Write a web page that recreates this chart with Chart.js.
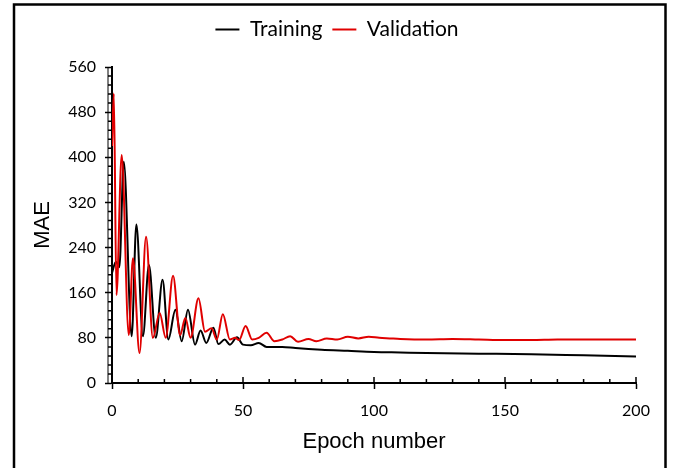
<!DOCTYPE html>
<html>
<head>
<meta charset="utf-8">
<script src="https://cdn.jsdelivr.net/npm/chart.js@4.4.1/dist/chart.umd.min.js"></script>
<style>
  html, body { margin: 0; padding: 0; background: #fff; }
</style>
</head>
<body>
<canvas id="maeChart" width="674" height="468"></canvas>
<script>
// MAE per epoch
const trainEpochs = [0, 1.5, 2.8, 4.5, 7.5, 9.3, 11.8, 14.1, 16.7, 19.3, 21.5, 24.2, 26.6, 29, 31.7, 33.8, 36, 38.7, 40.6, 43, 45, 47.7, 50, 53, 56, 59, 65, 70, 80, 90, 100, 110, 120, 140, 160, 180, 200];
const trainMAE = [195, 215, 205, 392, 83, 281, 83, 209, 80, 183, 77, 130, 74, 130, 68, 93, 71, 98, 69, 77, 68, 81, 68, 67, 71, 64, 64, 62, 59, 57, 55, 54, 53, 52, 51, 49, 47];

const valEpochs = [0, 0.7, 1.7, 3.7, 6.4, 8, 10.5, 13, 15.6, 18.2, 20.5, 23.3, 26, 28, 30, 33, 35.5, 38, 40, 42.3, 45, 47, 48.5, 51, 53.5, 56, 59, 62, 65, 68, 71, 75, 78, 82, 86, 90, 94, 98, 102, 106, 110, 120, 130, 140, 150, 160, 170, 180, 190, 200];
const valMAE = [420, 513, 156, 404, 85, 221, 53, 259, 80, 124, 80, 190, 85, 115, 80, 150, 91, 97, 77, 122, 77, 80, 76, 101, 77, 80, 89, 74, 77, 83, 73, 78, 74, 79, 77, 82, 79, 82, 80, 79, 78, 77, 78, 77, 76, 76, 77, 77, 77, 77];

const xTicks = [0, 50, 100, 150, 200];
const yTicks = [0, 80, 160, 240, 320, 400, 480, 560];
const xMinorStep = 10;
const yMinorStep = 16;

const toPoints = (xs, ys) => xs.map((x, i) => ({ x: x, y: ys[i] }));

// extra room under the legend
const legendGap = {
    id: 'legendGap',
    beforeLayout(chart) {
        const legend = chart.legend;
        if (legend && !legend._gapped) {
            const fit = legend.fit;
            legend.fit = function () { fit.call(this); this.height += 17; };
            legend._gapped = true;
        }
    }
};

// minor ticks, upper half of the x major ticks, and the outer frame
const axisDecor = {
    id: 'axisDecor',
    afterDraw(chart) {
        const ctx = chart.ctx;
        const x = chart.scales.x;
        const y = chart.scales.y;
        ctx.save();
        ctx.strokeStyle = '#000';
        ctx.lineWidth = 1.5;
        ctx.beginPath();
        for (let v = 0; v <= 200; v += xMinorStep) {
            const px = x.getPixelForValue(v);
            ctx.moveTo(px, y.bottom);
            ctx.lineTo(px, y.bottom - (v % 50 ? 4 : 6));
        }
        for (let v = yMinorStep; v < 560; v += yMinorStep) {
            if (v % 80 === 0) continue;
            const py = y.getPixelForValue(v);
            ctx.moveTo(x.left, py);
            ctx.lineTo(x.left - 4, py);
        }
        ctx.stroke();

        ctx.lineWidth = 1;
        ctx.beginPath();
        ctx.moveTo(x.left - 4, y.top);
        ctx.lineTo(x.left - 4, y.bottom);
        ctx.stroke();

        ctx.lineWidth = 2.5;
        ctx.strokeRect(14, 4.5, 651.5, 480);
        ctx.restore();
    }
};

new Chart(document.getElementById('maeChart').getContext('2d'), {
    type: 'line',
    data: {
        datasets: [{
            label: 'Training',
            data: toPoints(trainEpochs, trainMAE),
            borderColor: '#000000',
            backgroundColor: '#000000',
            borderWidth: 2,
            pointRadius: 0,
            cubicInterpolationMode: 'monotone',
            order: 1
        }, {
            label: 'Validation',
            data: toPoints(valEpochs, valMAE),
            borderColor: '#e00000',
            backgroundColor: '#e00000',
            borderWidth: 2,
            pointRadius: 0,
            cubicInterpolationMode: 'monotone',
            order: 0
        }]
    },
    options: {
        responsive: false,
        animation: false,
        layout: { padding: { top: 9 } },
        plugins: {
            legend: {
                position: 'top',
                labels: {
                    usePointStyle: true,
                    pointStyle: 'line',
                    pointStyleWidth: 24,
                    padding: 10,
                    color: '#000',
                    font: { family: 'Lato, sans-serif', size: 21 },
                    sort: (a, b) => a.datasetIndex - b.datasetIndex
                }
            },
            tooltip: { enabled: false }
        },
        scales: {
            x: {
                type: 'linear',
                min: 0,
                max: 200,
                afterBuildTicks: s => { s.ticks = xTicks.map(v => ({ value: v })); },
                afterFit: s => { s.height = 85; },
                border: { color: '#000', width: 2 },
                grid: { drawOnChartArea: false, color: '#000', tickLength: 6, tickWidth: 1.5 },
                ticks: {
                    color: '#000',
                    padding: 12,
                    font: { family: 'Lato, sans-serif', size: 16 }
                },
                title: {
                    display: true,
                    text: 'Epoch number',
                    color: '#000',
                    padding: { top: 0, bottom: 13 },
                    font: { family: '"Liberation Sans", Arial, sans-serif', size: 22 }
                }
            },
            y: {
                type: 'linear',
                min: 0,
                max: 560,
                afterBuildTicks: s => { s.ticks = yTicks.map(v => ({ value: v })); },
                afterFit: s => { s.width = 112; },
                border: { color: '#000', width: 2 },
                grid: { drawOnChartArea: false, color: '#000', tickLength: 7, tickWidth: 1.5 },
                ticks: {
                    color: '#000',
                    padding: 9,
                    font: { family: 'Lato, sans-serif', size: 16 }
                },
                title: {
                    display: true,
                    text: 'MAE',
                    color: '#000',
                    padding: { top: 30, bottom: 0 },
                    font: { family: '"Liberation Sans", Arial, sans-serif', size: 22 }
                }
            },
            yRight: {
                position: 'right',
                display: true,
                afterFit: s => { s.width = 38; },
                border: { display: false },
                grid: { display: false },
                ticks: { display: false }
            }
        }
    },
    plugins: [legendGap, axisDecor]
});
</script>
</body>
</html>
